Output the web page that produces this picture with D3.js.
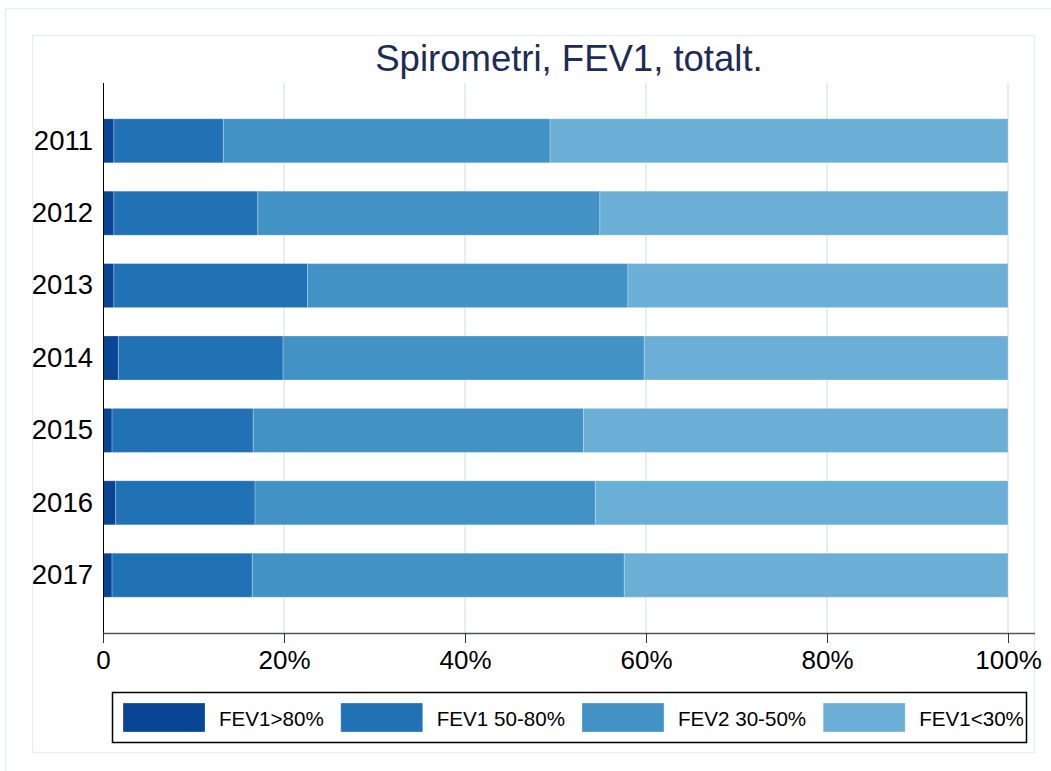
<!DOCTYPE html>
<html>
<head>
<meta charset="utf-8">
<script src="https://cdn.jsdelivr.net/npm/d3@7"></script>
<style>
  body { margin: 0; background: #fff; }
  svg { font-family: "Liberation Sans", Arial, sans-serif; }
</style>
</head>
<body>
<svg id="chart" width="1051" height="771"></svg>
<script>
// DATA
var years = ["2011", "2012", "2013", "2014", "2015", "2016", "2017"];
var groups = ["FEV1>80%", "FEV1 50-80%", "FEV2 30-50%", "FEV1<30%"];
// percent share per group, one array per group (same order as years)
var fevOver80  = [1.2, 1.2, 1.2, 1.7, 1.0, 1.4, 1.0];
var fev50to80  = [12.1, 15.9, 21.4, 18.2, 15.6, 15.4, 15.5];
var fev30to50  = [36.1, 37.8, 35.4, 39.9, 36.5, 37.6, 41.1];
var fevUnder30 = [50.6, 45.1, 42.0, 40.2, 46.9, 45.6, 42.4];
var xTicks = [0, 0.2, 0.4, 0.6, 0.8, 1];

var blues = d3.schemeBlues[7];
var colors = [blues[6], blues[5], blues[4], blues[3]];

// SIZING
var W = 1051, H = 771;
var plotLeft = 103, plotRight = 1008, plotTop = 83, plotBottom = 633, axisEnd = 1035;

var svg = d3.select("#chart");

// frames
svg.append("rect").attr("x", 5.5).attr("y", 8.5).attr("width", W).attr("height", H)
  .attr("fill", "none").attr("stroke", "#e8eff2").attr("stroke-width", 1.5);
svg.append("rect").attr("x", 32.5).attr("y", 35.5).attr("width", 1002).attr("height", 717)
  .attr("fill", "none").attr("stroke", "#e8eff2").attr("stroke-width", 1.5);

// build stacked table
var table = years.map(function(y, i) {
  return { year: y, g0: fevOver80[i], g1: fev50to80[i], g2: fev30to50[i], g3: fevUnder30[i] };
});
var stacked = d3.stack().keys(["g0", "g1", "g2", "g3"])
  .offset(d3.stackOffsetExpand)(table);

var x = d3.scaleLinear().domain([0, 1]).range([plotLeft, plotRight]);
var y = d3.scaleBand().domain(years).range([plotTop, plotBottom])
  .paddingInner(0.392).paddingOuter(0.494);

// gridlines
svg.append("g").selectAll("line.grid")
  .data(xTicks.slice(1))
  .enter().append("line")
  .attr("class", "grid")
  .attr("x1", function(d) { return x(d); })
  .attr("x2", function(d) { return x(d); })
  .attr("y1", plotTop).attr("y2", plotBottom)
  .attr("stroke", "#e6eef0").attr("stroke-width", 2);

// bars
svg.append("g").selectAll("g.layer")
  .data(stacked)
  .enter().append("g")
  .attr("class", "layer")
  .attr("fill", function(d, i) { return colors[i]; })
  .selectAll("rect")
  .data(function(d) { return d; })
  .enter().append("rect")
  .attr("x", function(d) { return x(d[0]); })
  .attr("width", function(d) { return x(d[1]) - x(d[0]); })
  .attr("y", function(d) { return y(d.data.year); })
  .attr("height", y.bandwidth())
  .attr("stroke", "#ffffff").attr("stroke-opacity", 0.25).attr("stroke-width", 1);

// y axis
var yAxis = svg.append("g")
  .attr("transform", "translate(" + plotLeft + ",0)")
  .call(d3.axisLeft(y).tickSize(0).tickPadding(10));
yAxis.select(".domain").attr("d", "M0.5," + plotTop + "V" + plotBottom).attr("stroke", "#000");
yAxis.selectAll("text").attr("font-size", 27.5).attr("fill", "#000")
  .attr("font-family", "Liberation Sans, Arial, sans-serif");

// x axis
var xAxis = svg.append("g")
  .attr("transform", "translate(0," + plotBottom + ")")
  .call(d3.axisBottom(x).tickValues(xTicks).tickSize(10).tickPadding(8)
    .tickFormat(function(d) { return d === 0 ? "0" : d3.format(".0%")(d); }));
xAxis.select(".domain").attr("d", "M" + plotLeft + ",0.5H" + axisEnd)
  .attr("stroke", "#555").attr("stroke-width", 1.6);
xAxis.selectAll(".tick line").attr("stroke", "#333");
xAxis.selectAll("text").attr("font-size", 26).attr("fill", "#000")
  .attr("font-family", "Liberation Sans, Arial, sans-serif");

// title
svg.append("text")
  .attr("x", (plotLeft + axisEnd) / 2)
  .attr("y", 71)
  .attr("text-anchor", "middle")
  .attr("font-size", 36.5)
  .attr("fill", "#1d2b58")
  .text("Spirometri, FEV1, totalt.");

// legend
var legend = svg.append("g");
legend.append("rect")
  .attr("x", 112.5).attr("y", 692.5).attr("width", 914).attr("height", 50)
  .attr("fill", "#fff").attr("stroke", "#000").attr("stroke-width", 1.5);

var lx = 123;
groups.forEach(function(g, i) {
  legend.append("rect")
    .attr("x", lx).attr("y", 703).attr("width", 82).attr("height", 29)
    .attr("fill", colors[i]).attr("stroke", "#ffffff").attr("stroke-opacity", 0.3);
  var t = legend.append("text")
    .attr("x", lx + 96).attr("y", 725.5)
    .attr("font-size", 20.6).attr("fill", "#000")
    .text(g);
  lx = lx + 96 + t.node().getComputedTextLength() + 17;
});
</script>
</body>
</html>
